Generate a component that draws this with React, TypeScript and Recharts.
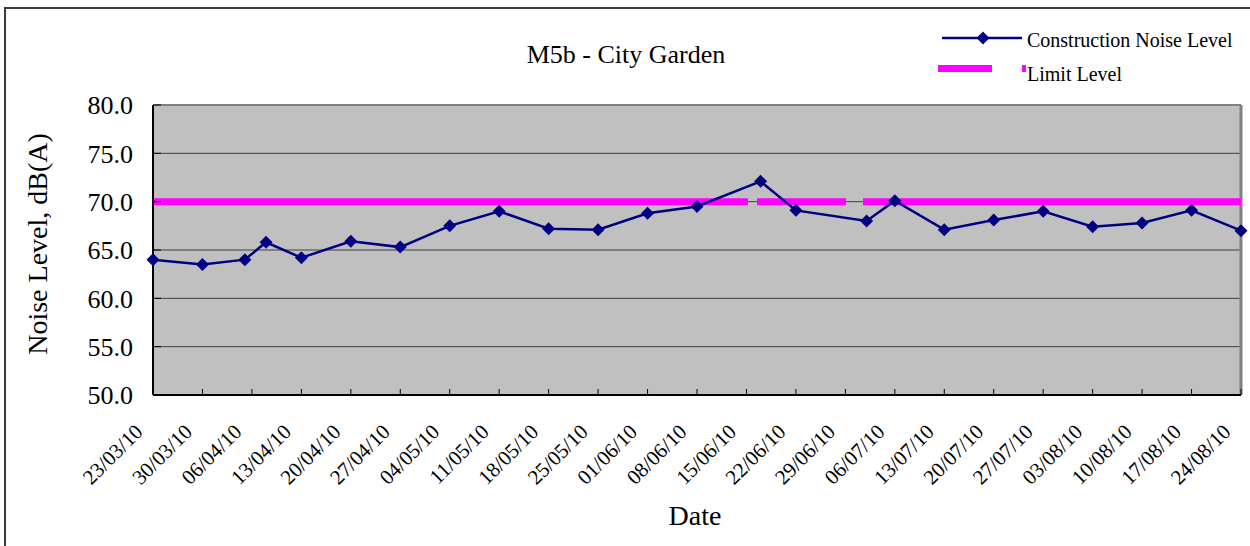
import {
  LineChart,
  Line,
  XAxis,
  YAxis,
  CartesianGrid,
  ReferenceLine,
  Legend,
} from "recharts";

const FONT = '"Liberation Serif", "Times New Roman", serif';

// sampling dates (dd/mm/yy) and measured levels
const sampleDates = [
  "23/03/10", "30/03/10", "05/04/10", "08/04/10", "13/04/10", "20/04/10",
  "27/04/10", "04/05/10", "11/05/10", "18/05/10", "25/05/10", "01/06/10",
  "08/06/10", "17/06/10", "22/06/10", "02/07/10", "06/07/10", "13/07/10",
  "20/07/10", "27/07/10", "03/08/10", "10/08/10", "17/08/10", "24/08/10",
];
const noiseLevels = [
  64.0, 63.5, 64.0, 65.8, 64.2, 65.9, 65.3, 67.5, 69.0, 67.2, 67.1, 68.8,
  69.5, 72.1, 69.1, 68.0, 70.1, 67.1, 68.1, 69.0, 67.4, 67.8, 69.1, 67.0,
];
const limitLevel = 70;

const tickDates = [
  "23/03/10", "30/03/10", "06/04/10", "13/04/10", "20/04/10", "27/04/10",
  "04/05/10", "11/05/10", "18/05/10", "25/05/10", "01/06/10", "08/06/10",
  "15/06/10", "22/06/10", "29/06/10", "06/07/10", "13/07/10", "20/07/10",
  "27/07/10", "03/08/10", "10/08/10", "17/08/10", "24/08/10",
];
const yTicks = [50, 55, 60, 65, 70, 75, 80];

function toDay(s: string) {
  const [d, m, y] = s.split("/").map(Number);
  return Date.UTC(2000 + y, m - 1, d) / 86400000;
}

const data = sampleDates.map((d, i) => ({
  day: toDay(d),
  noise: noiseLevels[i],
  limit: limitLevel,
}));
const dayTicks = tickDates.map(toDay);

const Diamond = (props: any) => {
  const { cx, cy, index } = props;
  if (cx == null || cy == null) return null;
  const r = 6.5;
  return (
    <polygon
      key={`dot-${index}`}
      points={`${cx},${cy - r} ${cx + r},${cy} ${cx},${cy + r} ${cx - r},${cy}`}
      fill="#000080"
    />
  );
};

const DateTick = (props: any) => {
  const { x, y, index } = props;
  const ax = x - 9;
  const ay = y + 44;
  return (
    <text
      x={ax}
      y={ay}
      textAnchor="end"
      transform={`rotate(-45 ${ax} ${ay})`}
      fontFamily={FONT}
      fontSize={21}
      fill="#000"
    >
      {tickDates[index]}
    </text>
  );
};

const TitleAndLegend = () => (
  <svg width={1250} height={100} style={{ display: "block" }}>
    <text x={626} y={63} textAnchor="middle" fontFamily={FONT} fontSize={26} fill="#000">
      M5b - City Garden
    </text>
    <line x1={942} y1={38} x2={1022} y2={38} stroke="#000080" strokeWidth={2.5} />
    <polygon points="983,31.5 989.5,38 983,44.5 976.5,38" fill="#000080" />
    <text x={1027} y={46.5} fontFamily={FONT} fontSize={20} fill="#000">
      Construction Noise Level
    </text>
    <rect x={938} y={65} width={54} height={7} fill="#FF00FF" />
    <rect x={1022} y={65} width={4} height={7} fill="#FF00FF" />
    <text x={1027} y={81} fontFamily={FONT} fontSize={20} fill="#000">
      Limit Level
    </text>
  </svg>
);

export default function App() {
  return (
    <div
      style={{
        position: "absolute",
        left: 0,
        top: 0,
        width: 1250,
        height: 546,
        background: "#fff",
        overflow: "hidden",
      }}
    >
      <div
        style={{
          position: "absolute",
          left: 4,
          top: 7,
          width: 1270,
          height: 580,
          borderLeft: "2px solid #3a3a3a",
          borderTop: "2px solid #3a3a3a",
        }}
      />
      <LineChart
        width={1250}
        height={546}
        data={data}
        margin={{ top: 105, right: 9, bottom: 0, left: 0 }}
      >
        <CartesianGrid
          vertical={false}
          fill="#C0C0C0"
          fillOpacity={1}
          stroke="#404040"
        />
        <XAxis
          dataKey="day"
          type="number"
          domain={[dayTicks[0], dayTicks[dayTicks.length - 1]]}
          ticks={dayTicks}
          interval={0}
          height={151}
          tickSize={-6}
          tickMargin={0}
          tick={<DateTick />}
          axisLine={{ stroke: "#000", strokeWidth: 2 }}
          tickLine={{ stroke: "#000" }}
          label={() => (
            <text x={695} y={525} textAnchor="middle" fontFamily={FONT} fontSize={28} fill="#000">
              Date
            </text>
          )}
        />
        <YAxis
          domain={[50, 80]}
          ticks={yTicks}
          width={153}
          tickSize={-8}
          tickMargin={28}
          tickFormatter={(v: number) => v.toFixed(1)}
          tick={{ fill: "#000", fontSize: 26, fontFamily: FONT }}
          axisLine={{ stroke: "#000", strokeWidth: 2 }}
          tickLine={{ stroke: "#000" }}
          label={() => (
            <text
              x={47}
              y={244}
              transform="rotate(-90 47 244)"
              textAnchor="middle"
              fontFamily={FONT}
              fontSize={28}
              fill="#000"
            >
              Noise Level, dB(A)
            </text>
          )}
        />
        <ReferenceLine y={80} stroke="#808080" strokeWidth={2} />
        <ReferenceLine x={dayTicks[dayTicks.length - 1]} stroke="#808080" strokeWidth={3} />
        <Legend
          layout="horizontal"
          verticalAlign="middle"
          align="center"
          content={<TitleAndLegend />}
          wrapperStyle={{ left: 0, top: 0, width: 1250, height: 100 }}
        />
        <Line
          dataKey="limit"
          stroke="#FF00FF"
          strokeWidth={7}
          strokeDasharray="595 9 89 17 400"
          dot={false}
          activeDot={false}
          legendType="none"
          isAnimationActive={false}
        />
        <Line
          dataKey="noise"
          stroke="#000080"
          strokeWidth={2.5}
          dot={Diamond}
          activeDot={false}
          isAnimationActive={false}
        />
      </LineChart>
    </div>
  );
}
